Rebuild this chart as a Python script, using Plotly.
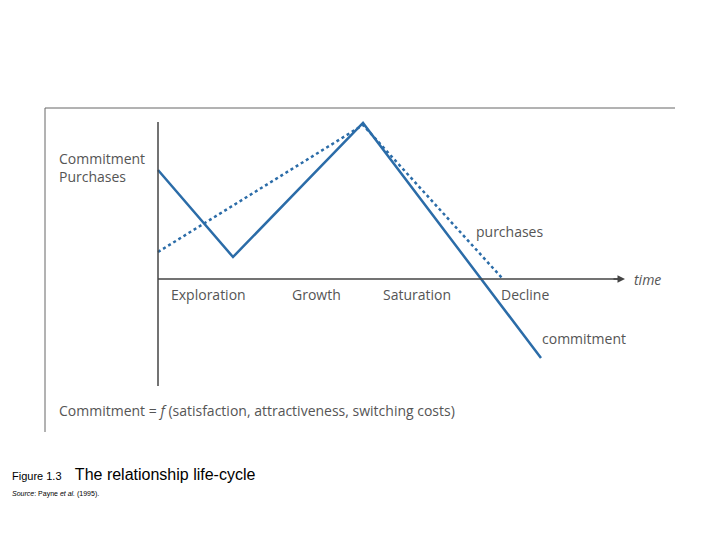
import plotly.graph_objects as go

# values (page pixel units)
commit_x = [158, 233, 363, 541]
commit_y = [170, 257, 123, 358]
purch_x = [158, 363, 502]
purch_y = [252, 125, 278]
stages = ["Exploration", "Growth", "Saturation", "Decline"]
stage_x = [208, 316, 417, 525]

blue = "#2b6ca8"
grey = "#555555"
txt = dict(family="Open Sans", size=14, color=grey)

fig = go.Figure()
fig.add_trace(go.Scatter(x=commit_x, y=commit_y, mode="lines",
                         line=dict(color=blue, width=2.5)))
fig.add_trace(go.Scatter(x=purch_x, y=purch_y, mode="lines",
                         line=dict(color=blue, width=2.5, dash="dot")))

shapes = [
    dict(type="line", x0=45, x1=675, y0=108, y1=108, line=dict(color="#666", width=1)),
    dict(type="line", x0=45, x1=45, y0=108, y1=432, line=dict(color="#666", width=1)),
    dict(type="line", x0=158, x1=158, y0=122, y1=386, line=dict(color="#444", width=1.5)),
    dict(type="line", x0=158, x1=622, y0=279, y1=279, line=dict(color="#444", width=1.5)),
]

ann = [
    dict(x=57, y=167, text="Commitment<br>Purchases", xanchor="left", align="left"),
    dict(x=474, y=231, text="purchases", xanchor="left"),
    dict(x=540, y=338, text="commitment", xanchor="left"),
    dict(x=632, y=279, text="<i>time</i>", xanchor="left"),
    dict(x=57, y=410, text="Commitment = <i>f</i> (satisfaction, attractiveness, switching costs)",
         xanchor="left"),
]
for s, x in zip(stages, stage_x):
    ann.append(dict(x=x, y=294, text=s))
for a in ann:
    a.update(showarrow=False, font=txt, yanchor="middle")
ann.append(dict(x=625, y=279, ax=612, ay=279, axref="x", ayref="y", showarrow=True,
                arrowhead=2, arrowsize=1, arrowwidth=1.5, arrowcolor="#444", text=""))
ann.append(dict(x=10, y=474, showarrow=False, xanchor="left", yanchor="middle",
                text="<span style='font-size:11px'>Figure 1.3</span>&nbsp;&nbsp;&nbsp;The relationship life-cycle",
                font=dict(family="Liberation Sans", size=16, color="black")))
ann.append(dict(x=10, y=494, showarrow=False, xanchor="left", yanchor="middle",
                text="<i>Source</i>: Payne <i>et al.</i> (1995).",
                font=dict(family="Liberation Sans", size=7, color="black")))

# the page has an 8px body margin, so shift the ranges to compensate
fig.update_layout(width=720, height=540, margin=dict(l=0, r=0, t=0, b=0),
                  plot_bgcolor="white", paper_bgcolor="white", showlegend=False,
                  shapes=shapes, annotations=ann,
                  xaxis=dict(range=[8, 728], visible=False),
                  yaxis=dict(range=[548, 8], visible=False))
fig.write_html("out.html")
